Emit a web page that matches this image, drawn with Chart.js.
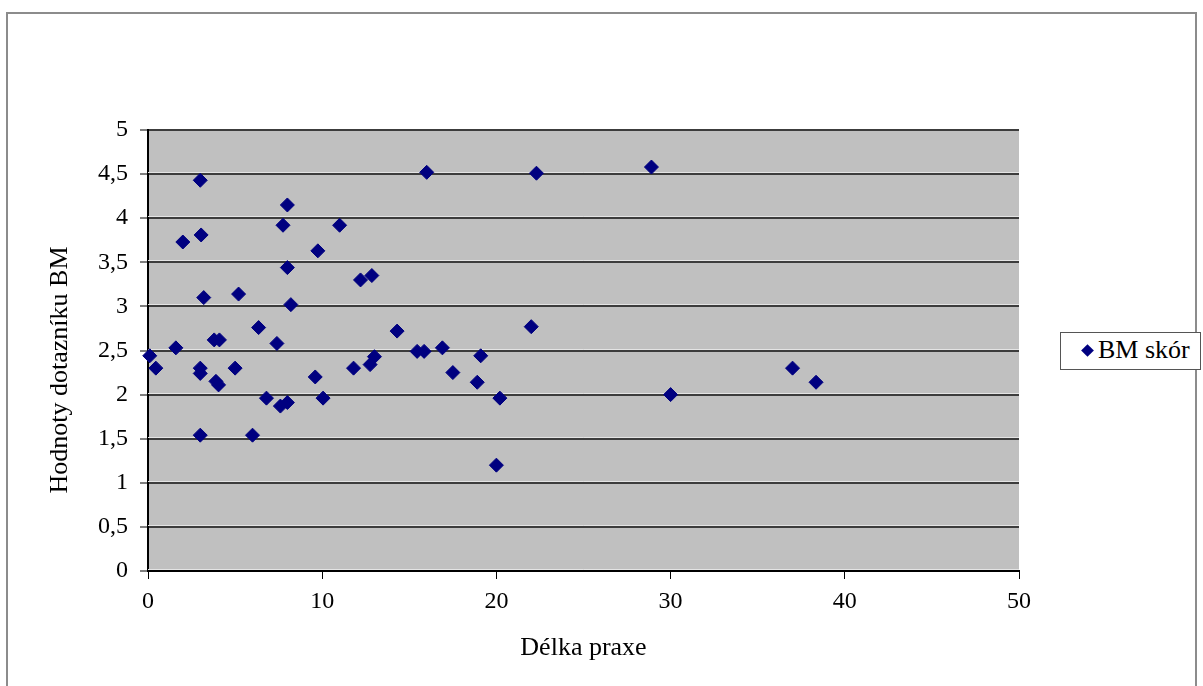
<!DOCTYPE html>
<html lang="cs">
<head>
<meta charset="utf-8">
<title>BM skór</title>
<script src="https://cdn.jsdelivr.net/npm/chart.js@4/dist/chart.umd.min.js"></script>
<style>
    html, body { margin: 0; padding: 0; background: #fff; }
    #wrap { position: relative; width: 1203px; height: 686px; overflow: hidden; }
    #frame {
        position: absolute; left: 6px; top: 12px; width: 1191px; height: 720px;
        border: 2px solid #8c8c8c; border-bottom: none; box-sizing: border-box;
    }
    #bmChart { position: absolute; left: 0; top: 0; }
    #legend {
        position: absolute; left: 1060px; top: 332px; width: 141px; height: 38px;
        border: 1.5px solid #555; box-sizing: border-box; background: #fff;
        font-family: "Liberation Serif", "Times New Roman", serif; font-size: 26px;
        line-height: 34px; color: #000; white-space: nowrap;
    }
    #legend .mark {
        display: inline-block; width: 9px; height: 9px; background: #000080;
        transform: rotate(45deg); margin: 0 6px 3px 22px; vertical-align: middle;
    }
</style>
</head>
<body>
<div id="wrap">
    <div id="frame"></div>
    <canvas id="bmChart" width="1203" height="686"></canvas>
    <div id="legend"><span class="mark"></span><span id="legendText"></span></div>
</div>
<script>
// Délka praxe (roky) a skór dotazníku BM pro každého respondenta
const delkaPraxe = [
    0.1, 0.45, 1.6, 2.0, 3.0, 3.05, 3.2, 3.0, 3.0, 3.0,
    3.8, 4.1, 3.9, 4.05, 5.0, 5.2, 6.0, 6.35, 6.8, 7.4,
    7.6, 7.75, 8.0, 8.0, 8.0, 8.2, 9.6, 9.75, 10.05, 11.0,
    11.8, 12.2, 12.75, 12.85, 13.0, 14.3, 15.45, 15.85, 16.0, 16.9,
    17.5, 18.9, 19.1, 20.0, 20.2, 22.0, 22.3, 28.9, 30.0, 37.0,
    38.35
];
const bmSkor = [
    2.44, 2.30, 2.53, 3.73, 4.43, 3.81, 3.10, 2.30, 2.24, 1.54,
    2.62, 2.62, 2.15, 2.11, 2.30, 3.14, 1.54, 2.76, 1.96, 2.58,
    1.87, 3.92, 4.15, 3.44, 1.91, 3.02, 2.20, 3.63, 1.96, 3.92,
    2.30, 3.30, 2.34, 3.35, 2.43, 2.72, 2.49, 2.49, 4.52, 2.53,
    2.25, 2.14, 2.44, 1.20, 1.96, 2.77, 4.51, 4.58, 2.00, 2.30,
    2.14
];
const seriesName = 'BM skór';
const xTitle = 'Délka praxe';
const yTitle = 'Hodnoty dotazníku BM';

const points = delkaPraxe.map((x, i) => ({ x: x, y: bmSkor[i] }));
const serif = '"Liberation Serif", "Times New Roman", serif';

Chart.defaults.font.family = serif;
Chart.defaults.color = '#000';

// Grey plot background plus a light stripe above each grid line
const plotArea = {
    id: 'plotArea',
    beforeDraw(chart) {
        const { ctx, chartArea: a } = chart;
        ctx.save();
        ctx.fillStyle = '#c0c0c0';
        ctx.fillRect(a.left, a.top, a.right - a.left, a.bottom - a.top);
        ctx.restore();
    },
    beforeDatasetsDraw(chart) {
        const { ctx, chartArea: a, scales } = chart;
        ctx.save();
        ctx.strokeStyle = '#e4e4e4';
        ctx.lineWidth = 1;
        scales.y.ticks.forEach(t => {
            const y = Math.round(scales.y.getPixelForValue(t.value)) - 1.5;
            if (y <= a.top + 1) return;
            ctx.beginPath();
            ctx.moveTo(a.left, y);
            ctx.lineTo(a.right, y);
            ctx.stroke();
        });
        ctx.restore();
    },
    afterDraw(chart) {
        // rotated y axis title
        const { ctx } = chart;
        ctx.save();
        ctx.translate(60, 370);
        ctx.rotate(-Math.PI / 2);
        ctx.font = '26px ' + serif;
        ctx.fillStyle = '#000';
        ctx.textAlign = 'center';
        ctx.textBaseline = 'middle';
        ctx.fillText(yTitle, 0, 0);
        ctx.restore();
    }
};

const comma = v => String(v).replace('.', ',');

new Chart(document.getElementById('bmChart'), {
    type: 'scatter',
    data: {
        datasets: [{
            label: seriesName,
            data: points,
            pointStyle: 'rectRot',
            pointRadius: 7,
            pointBorderWidth: 1,
            backgroundColor: '#000080',
            borderColor: '#000080',
            clip: false
        }]
    },
    options: {
        responsive: false,
        devicePixelRatio: 1,
        animation: false,
        layout: { padding: { left: 0, top: 130, right: 184, bottom: 0 } },
        plugins: {
            legend: { display: false },
            tooltip: { enabled: false }
        },
        scales: {
            x: {
                type: 'linear',
                min: 0,
                max: 50,
                afterFit(scale) { scale.height = 115; },
                ticks: {
                    stepSize: 10,
                    padding: 8,
                    font: { size: 24 },
                    color: '#000',
                    callback: comma
                },
                grid: {
                    drawOnChartArea: false,
                    drawTicks: true,
                    tickLength: 8,
                    tickColor: '#000',
                    tickWidth: 1
                },
                border: { color: '#000', width: 2 },
                title: {
                    display: true,
                    text: xTitle,
                    font: { size: 26 },
                    color: '#000',
                    padding: { top: 0, bottom: 22 }
                }
            },
            y: {
                type: 'linear',
                min: 0,
                max: 5,
                afterFit(scale) { scale.width = 148; },
                ticks: {
                    stepSize: 0.5,
                    padding: 12,
                    font: { size: 24 },
                    color: '#000',
                    callback: comma
                },
                grid: {
                    color: '#3c3c3c',
                    lineWidth: 2,
                    tickLength: 8,
                    tickColor: '#000',
                    tickWidth: 1
                },
                border: { color: '#000', width: 2 }
            }
        }
    },
    plugins: [plotArea]
});

document.getElementById('legendText').textContent = seriesName;
</script>
</body>
</html>
